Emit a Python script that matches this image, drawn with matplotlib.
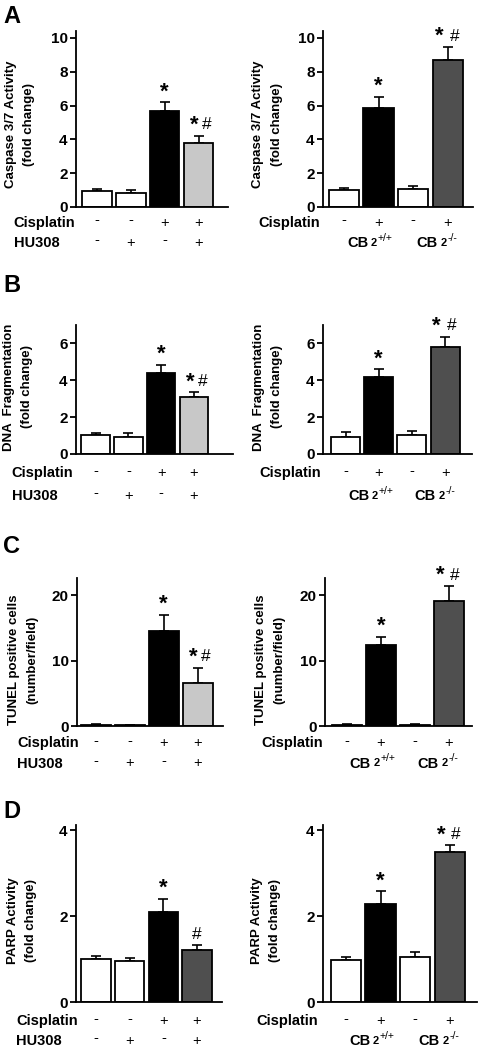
import numpy as np
import matplotlib
matplotlib.use('Agg')
from matplotlib import pyplot as plt

plt.rcParams['font.family'] = ['Liberation Sans', 'DejaVu Sans']
plt.rcParams['font.weight'] = 'bold'

# ---- data ----
cisplatin_hu = ['-', '-', '+', '+']
hu308 = ['-', '+', '-', '+']
cisplatin_cb = ['-', '+', '-', '+']
genotype_sup = ['+/+', '-/-']

ylabels = ['Caspase 3/7 Activity\n(fold change)',
           'DNA  Fragmentation\n(fold change)',
           'TUNEL positive cells\n(number/field)',
           'PARP Activity\n(fold change)']
letters = ['A', 'B', 'C', 'D']

caspase_hu = [0.92, 0.83, 5.68, 3.77]
caspase_hu_err = [0.16, 0.15, 0.51, 0.45]
caspase_cb = [0.98, 5.87, 1.04, 8.72]
caspase_cb_err = [0.14, 0.65, 0.18, 0.75]

dna_hu = [1.01, 0.94, 4.38, 3.11]
dna_hu_err = [0.15, 0.18, 0.45, 0.25]
dna_cb = [0.94, 4.16, 1.05, 5.79]
dna_cb_err = [0.24, 0.43, 0.22, 0.58]

tunel_hu = [0.15, 0.1, 14.5, 6.6]
tunel_hu_err = [0.1, 0.05, 2.45, 2.3]
tunel_cb = [0.2, 12.4, 0.2, 19.1]
tunel_cb_err = [0.1, 1.2, 0.1, 2.3]

parp_hu = [1.01, 0.955, 2.1, 1.2]
parp_hu_err = [0.06, 0.07, 0.3, 0.12]
parp_cb = [0.98, 2.28, 1.04, 3.5]
parp_cb_err = [0.06, 0.3, 0.12, 0.15]

sig_hu = ['', '', '*', '*#']
sig_hu_parp = ['', '', '*', '#']
sig_cb = ['', '*', '', '*#']

yticks = [[0, 2, 4, 6, 8, 10], [0, 2, 4, 6], [0, 10, 20], [0, 2, 4]]
ymax = [10.41, 7.0, 22.6, 4.12]

# ---- styles ----
W, LG, K, DG = 'white', '#c8c8c8', 'black', '#4f4f4f'
colors_hu = [W, W, K, LG]
colors_hu_parp = [W, W, K, DG]
colors_cb = [W, K, W, DG]

# axes boxes in pixels: left, top, right, bottom
boxes = [
    [(76, 31, 228, 207), (323, 31, 473, 207)],
    [(76, 325, 233, 454), (323, 325, 472, 454)],
    [(77, 578, 223, 726), (325, 578, 472, 726)],
    [(76, 825, 222, 1002), (323, 825, 477, 1002)],
]
xlims = [
    [(-0.62, 3.87), (-0.6, 3.72)],
    [(-0.6, 4.19), (-0.68, 3.81)],
    [(-0.55, 3.74), (-0.65, 3.68)],
    [(-0.59, 3.74), (-0.66, 3.78)],
]
row_off = [(-11.5, -26), (-14, -30), (-12.5, -27), (-14, -28)]  # points
letter_y = [23, 292, 553, 818]
ylabel_y = [0.47, 0.52, 0.45, 0.46]

FW, FH = 481, 1050
fig = plt.figure(figsize=(FW / 100, FH / 100), dpi=100)


def make_ax(box):
    l, t, r, b = box
    return fig.add_axes([l / FW, 1 - b / FH, (r - l) / FW, (b - t) / FH])


def mark(ax, s, xi, top, dx):
    if s == '*':
        ax.annotate('*', (xi, top), xytext=(dx, 3.5), textcoords='offset points',
                    ha='center', va='baseline', fontsize=16)
    else:
        ax.annotate('#', (xi, top), xytext=(dx, 4.5), textcoords='offset points',
                    ha='center', va='baseline', fontsize=12.5, fontweight='normal')


def bars(ax, vals, errs, cols, sig, xl, ytop, ticks, lab, laby, star_dx, hash_dx):
    x = np.arange(len(vals))
    ax.bar(x, vals, width=0.87, color=cols, edgecolor='black', linewidth=1.3, zorder=2)
    ax.errorbar(x, vals, yerr=[np.zeros(len(vals)), errs], fmt='none',
                ecolor='black', elinewidth=1.2, capsize=3.5, capthick=1.2, zorder=1)
    for xi, v, e, s in zip(x, vals, errs, sig):
        top = v + e
        if s == '*#':
            mark(ax, '*', xi, top, star_dx)
            mark(ax, '#', xi, top, hash_dx)
        elif s:
            mark(ax, s, xi, top, 0)
    ax.set_xlim(*xl)
    ax.set_ylim(0, ytop)
    ax.set_yticks(ticks)
    ax.set_xticks([])
    for sp in ['top', 'right']:
        ax.spines[sp].set_visible(False)
    for sp in ['left', 'bottom']:
        ax.spines[sp].set_linewidth(1.3)
    ax.tick_params(axis='y', direction='out', length=4, width=1.3, labelsize=11, pad=2)
    ax.text(-0.37, laby, lab, rotation=90, ha='center', va='center',
            transform=ax.transAxes, fontsize=9.5, linespacing=1.7)


def signs(ax, row, offset):
    for xi, s in enumerate(row):
        dy = 2 if s == '-' else 0
        ax.annotate(s, (xi, 0), xycoords=('data', 'axes fraction'),
                    xytext=(0, offset + dy), textcoords='offset points',
                    ha='center', va='center', fontsize=10.5, fontweight='normal')


def rowlabel(ax, txt, xfrac, offset):
    ax.annotate(txt, (xfrac, 0), xycoords='axes fraction', xytext=(0, offset),
                textcoords='offset points', ha='left', va='center', fontsize=10.5)


def genotype(ax, gx, sup, offset):
    t1 = ax.annotate('CB', (gx, 0), xycoords=('data', 'axes fraction'),
                     xytext=(5, offset), textcoords='offset points',
                     ha='right', va='center', fontsize=10.5)
    t2 = ax.annotate('2', (1, 0), xycoords=t1, xytext=(2, 1.5),
                     textcoords='offset points', ha='left', va='bottom', fontsize=8)
    ax.annotate(sup, (1, 0.5), xycoords=t2, xytext=(0.5, 0),
                textcoords='offset points', ha='left', va='bottom',
                fontsize=7.5, fontweight='normal')


panels = [
    (caspase_hu, caspase_hu_err, colors_hu, sig_hu, caspase_cb, caspase_cb_err),
    (dna_hu, dna_hu_err, colors_hu, sig_hu, dna_cb, dna_cb_err),
    (tunel_hu, tunel_hu_err, colors_hu, sig_hu, tunel_cb, tunel_cb_err),
    (parp_hu, parp_hu_err, colors_hu_parp, sig_hu_parp, parp_cb, parp_cb_err),
]

for i, (vh, eh, ch, sh, vc, ec) in enumerate(panels):
    r1, r2 = row_off[i]
    axl = make_ax(boxes[i][0])
    bars(axl, vh, eh, ch, sh, xlims[i][0], ymax[i], yticks[i], ylabels[i],
         ylabel_y[i], -3, 6)
    signs(axl, cisplatin_hu, r1)
    signs(axl, hu308, r2)
    rowlabel(axl, 'Cisplatin', -0.41, r1)
    rowlabel(axl, 'HU308', -0.41, r2)

    axr = make_ax(boxes[i][1])
    bars(axr, vc, ec, colors_cb, sig_cb, xlims[i][1], ymax[i], yticks[i], ylabels[i],
         ylabel_y[i], -6.5, 4.5)
    signs(axr, cisplatin_cb, r1)
    rowlabel(axr, 'Cisplatin', -0.43, r1)
    for gx, sup in zip([0.5, 2.5], genotype_sup):
        genotype(axr, gx, sup, r2)

    fig.text(3 / FW, 1 - letter_y[i] / FH, letters[i], fontsize=17,
             fontweight='bold', va='baseline', ha='left')

fig.savefig('out.png', dpi=100)
